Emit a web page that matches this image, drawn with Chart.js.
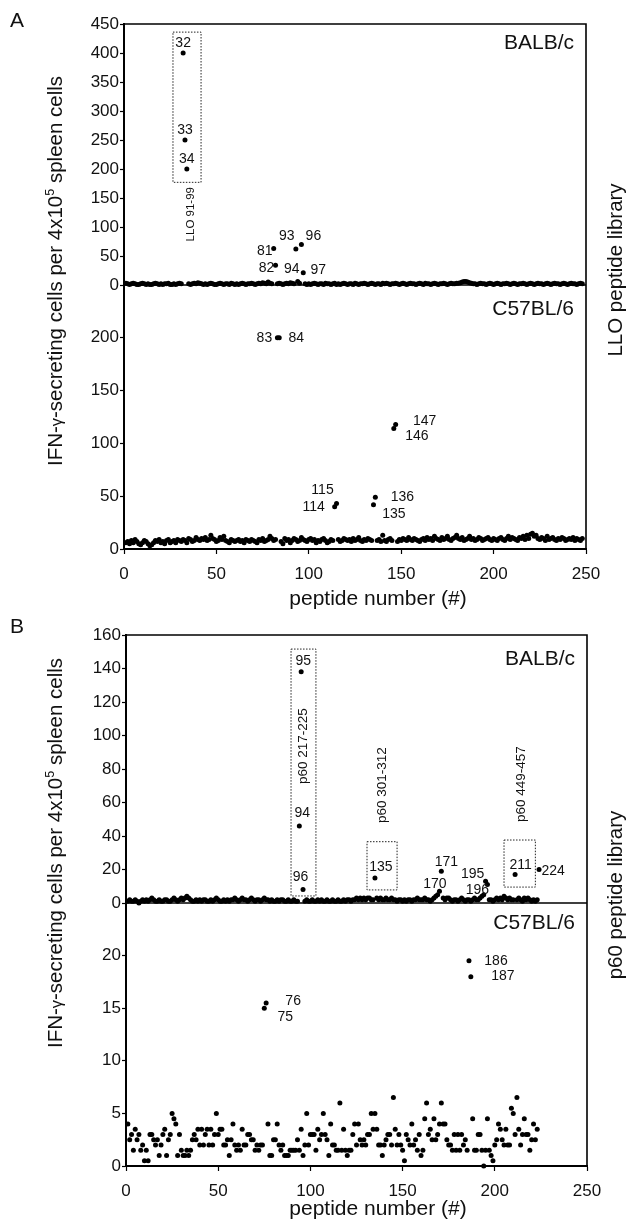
<!DOCTYPE html>
<html>
<head>
<meta charset="utf-8">
<script src="https://cdn.jsdelivr.net/npm/chart.js@4.4.1/dist/chart.umd.min.js"></script>
<style>
    body { margin: 0; background: #fff; width: 627px; height: 1227px; position: relative; overflow: hidden; }
    .panel { position: absolute; left: 0; width: 627px; }
</style>
</head>
<body>
<div class="panel" style="top:0;height:610px"><canvas id="chartA"></canvas></div>
<div class="panel" style="top:610px;height:617px"><canvas id="chartB"></canvas></div>
<script>
// ---- data, panel A: LLO peptide library (peptide 1..n) ----
const lloBalbc = [
    3,2,1,2,3,2,1,1,2,3, 2,1,2,1,1,2,3,2,1,2, 1,2,2,3,1,1,2,1,2,3,
    2,400,250,200,2,1,2,3,2,4, 3,2,1,2,1,2,3,2,1,1, 2,3,2,1,2,2,1,3,2,1,
    2,1,2,3,2,1,2,2,3,2, 1,2,3,2,4,3,2,5,3,2, 63,34,2,3,2,1,2,3,2,4,
    3,2,62,6,3,70,21,2,1,2, 1,2,3,2,1,2,2,1,3,2, 2,1,2,3,1,2,1,2,3,2,
    1,2,2,1,3,2,1,2,2,3, 2,1,2,3,2,1,2,2,1,3, 2,3,2,1,2,2,3,2,1,2,
    3,2,1,2,3,2,2,1,2,3, 2,1,3,2,2,1,2,3,2,1, 2,2,3,2,1,2,3,2,2,3,
    3,4,5,6,6,5,4,3,2,2, 1,2,3,2,2,1,2,3,2,1, 2,3,2,1,2,2,3,2,1,2,
    3,2,1,2,2,3,2,1,2,3, 2,1,2,3,2,2,1,2,3,2, 1,2,3,2,2,1,2,3,2,1,
    2,3,2,2,1,2,3,2
];
const lloC57 = [
    6,7,5,8,6,9,7,5,4,6, 8,7,5,3,4,6,8,7,9,6, 7,5,8,9,6,7,8,6,9,8,
    7,9,8,6,10,9,7,8,11,9, 8,10,9,11,8,9,13,10,9,7, 8,11,9,12,8,7,6,9,8,7,
    8,9,7,8,6,9,8,7,9,8, 7,6,9,8,10,7,8,9,12,10, 8,9,200,200,7,5,10,8,9,6,
    8,10,9,7,8,11,9,8,7,9, 10,8,9,6,8,7,9,10,8,6, 7,9,8,40,43,9,7,8,10,9,
    8,9,7,10,8,9,11,8,7,9, 8,10,9,8,42,49,8,9,7,13, 8,7,9,10,8,114,118,7,9,8,
    10,9,8,11,9,8,10,9,8,7, 9,10,8,11,9,10,8,12,10,9, 8,11,9,10,12,9,8,10,11,13,
    10,9,11,8,9,10,12,9,10,8, 9,11,10,8,9,10,11,9,8,10, 9,8,10,11,9,8,10,12,9,11,
    10,9,8,11,10,12,9,13,10,14, 15,12,13,10,9,11,10,8,12,9, 10,11,9,8,10,9,11,10,8,9,
    10,9,11,8,10,9,8,10
];

// ---- data, panel B: p60 peptide library ----
const p60Balbc = [
    1,2,1,1,2,1,0,1,2,1, 2,1,2,3,2,1,1,2,1,1, 2,2,1,1,2,3,2,1,2,3,
    2,3,4,3,2,1,1,2,1,2, 1,2,2,1,1,2,1,2,3,2, 1,1,2,1,2,1,2,2,3,2,
    1,2,3,2,2,1,2,3,2,1, 2,2,1,2,3,2,2,1,2,1, 1,2,1,2,2,1,1,2,1,1,
    2,1,1,46,138,8,1,2,1,1, 2,1,1,2,1,2,1,1,2,1, 1,2,1,1,2,1,1,2,1,2,
    2,1,2,2,3,2,3,2,3,2, 3,3,2,2,15,3,2,3,2,2, 3,2,2,3,2,2,1,2,2,1,
    2,1,2,2,1,2,2,3,2,2, 2,3,2,2,1,2,3,4,5,7, 19,3,2,3,3,2,1,2,2,1,
    2,3,2,1,2,2,1,2,3,2, 2,3,4,5,13,11,2,2,1,2, 3,2,3,2,4,3,2,3,2,2,
    17,2,3,2,1,3,2,3,2,1, 2,1,2,20
];
const p60C57 = [
    4,2.5,3,1.5,3.5,2.5,3,1.5,2,0.5, 1.5,0.5,3,3,2.5,2,2.5,1,2,3,
    3.5,1,2.5,3,5,4.5,4,1,3,1.5, 1,1,1.5,1,1.5,2.5,3,2.5,3.5,2,
    3.5,2,3,3.5,2,3.5,2,3,5,3, 3.5,3.5,2,2,2.5,1,2.5,4,2,1.5,
    2,1.5,3.5,2,2,3,3,2.5,2.5,1.5, 2,1.5,2,2,15,15.5,4,1,1,2.5,
    2.5,4,2,1.5,2,1,1,1,1.5,1.5, 1.5,1.5,2.5,1.5,3.5,1,2,5,2,3,
    3,3,1.5,3.5,2.5,3,5,3,2.5,1, 4,2,2,1.5,1.5,6,1.5,3.5,1.5,1,
    1.5,1.5,3,4,2,4,2.5,2,2.5,2, 3,3,5,3.5,5,3.5,2,2,1,2,
    2.5,3,3,2,6.5,3.5,2,3,2,1.5, 0.5,3,2.5,2,4,2,2.5,1.5,3,1,
    1.5,4.5,6,3,3.5,2.5,4.5,2.5,3,4, 6,4,4,2.5,2,2,1.5,3,1.5,3,
    1.5,3,2,2.5,1.5,19.5,18,4.5,1.5,1.5, 3,3,1.5,0,1.5,4.5,1.5,1,0.5,2,
    2.5,4,3.5,2.5,2,3.5,2,2,5.5,5, 3,6.5,3.5,2,3,4.5,3,3,1.5,2.5,
    4,2.5,3.5
];

// tick labels
const xTicks = [0, 50, 100, 150, 200, 250];
const lloBalbcTicks = [0, 50, 100, 150, 200, 250, 300, 350, 400, 450];
const lloC57Ticks = [0, 50, 100, 150, 200];
const p60BalbcTicks = [0, 20, 40, 60, 80, 100, 120, 140, 160];
const p60C57Ticks = [0, 5, 10, 15, 20];

const FONT = '"Liberation Sans", Arial, sans-serif';
const INK = '#111';

function points(values) {
    return values.map((v, i) => ({x: i + 1, y: v}));
}

function useTicks(list) {
    return scale => { scale.ticks = list.map(v => ({value: v})); };
}

function drawYTitle(ctx, cx, cy, size) {
    // rotated title with superscript 5
    const parts = [
        ['IFN-', size, 0],
        ['\u03b3', size * 0.8, 0],
        ['-secreting cells per 4x10', size, 0],
        ['5', size * 0.62, -size * 0.4],
        [' spleen cells', size, 0]
    ];
    ctx.save();
    ctx.translate(cx, cy);
    ctx.rotate(-Math.PI / 2);
    let total = 0;
    parts.forEach(p => { ctx.font = p[1] + 'px ' + FONT; total += ctx.measureText(p[0]).width; });
    let x = -total / 2;
    ctx.textAlign = 'left';
    ctx.textBaseline = 'alphabetic';
    ctx.fillStyle = INK;
    parts.forEach(p => {
        ctx.font = p[1] + 'px ' + FONT;
        ctx.fillText(p[0], x, size * 0.36 + p[2]);
        x += ctx.measureText(p[0]).width;
    });
    ctx.restore();
}

function rotatedText(ctx, text, x, y, font) {
    ctx.save();
    ctx.translate(x, y);
    ctx.rotate(-Math.PI / 2);
    ctx.font = font;
    ctx.textAlign = 'center';
    ctx.textBaseline = 'middle';
    ctx.fillStyle = INK;
    ctx.fillText(text, 0, 0);
    ctx.restore();
}

const panelDecor = {
    id: 'panelDecor',
    beforeDatasetsDraw(chart, args, o) {
        const ctx = chart.ctx, a = chart.chartArea, xs = chart.scales.x;
        ctx.save();
        ctx.strokeStyle = '#000';
        ctx.lineWidth = 1.6;
        ctx.beginPath();
        ctx.moveTo(a.left, a.top);
        ctx.lineTo(a.right, a.top);
        ctx.lineTo(a.right, a.bottom);
        const sep = chart.scales.yHigh.bottom;
        ctx.moveTo(a.left, sep);
        ctx.lineTo(a.right, sep);
        ctx.stroke();

        // dotted boxes round the epitopes
        ctx.setLineDash([1.5, 1.5]);
        ctx.lineWidth = 1;
        ctx.strokeStyle = '#222';
        o.boxes.forEach(b => {
            const ys = chart.scales[b.axis];
            const x0 = xs.getPixelForValue(b.x0), x1 = xs.getPixelForValue(b.x1);
            const y0 = ys.getPixelForValue(b.y0), y1 = ys.getPixelForValue(b.y1);
            ctx.strokeRect(x0, y1, x1 - x0, y0 - y1);
        });
        ctx.restore();
    },
    afterDraw(chart, args, o) {
        const ctx = chart.ctx, a = chart.chartArea, xs = chart.scales.x;
        ctx.save();
        ctx.fillStyle = INK;

        // panel letter
        ctx.font = '21px ' + FONT;
        ctx.textAlign = 'left';
        ctx.textBaseline = 'middle';
        ctx.fillText(o.letter, 10, o.letterY);

        // strain names
        ctx.textAlign = 'right';
        o.strains.forEach(s => {
            ctx.fillText(s.text, a.right - 12, chart.scales[s.axis].top + s.dy);
        });

        // x title
        ctx.textAlign = 'center';
        ctx.fillText('peptide number (#)', 378, o.xTitleY);

        drawYTitle(ctx, 55, o.yTitleY, 20.5);
        rotatedText(ctx, o.library, 616, o.libraryY, '20.5px ' + FONT);

        // epitope names
        o.tags.forEach(t => {
            const ys = chart.scales[t.axis];
            rotatedText(ctx, t.text, xs.getPixelForValue(t.x), ys.getPixelForValue(t.y), t.size + 'px ' + FONT);
        });

        // peptide numbers next to points
        ctx.font = '14px ' + FONT;
        ctx.textAlign = 'center';
        ctx.textBaseline = 'middle';
        o.numbers.forEach(n => {
            const ds = chart.data.datasets[n.ds];
            const v = ds.data[n.p - 1].y;
            const ys = chart.scales[ds.yAxisID];
            ctx.fillText(String(n.p), xs.getPixelForValue(n.p) + n.dx, ys.getPixelForValue(v) + n.dy);
        });
        ctx.restore();
    }
};

function dotSet(values, axis) {
    return {
        data: points(values),
        yAxisID: axis,
        backgroundColor: '#000',
        borderColor: '#000',
        pointRadius: 2.5,
        pointBorderWidth: 0,
        pointHoverRadius: 2.5,
        showLine: false,
        clip: false
    };
}

function yAxis(ticks, max, weight, axisWidth) {
    return {
        type: 'linear',
        position: 'left',
        stack: 'panel',
        stackWeight: weight,
        min: 0,
        max: max,
        afterBuildTicks: useTicks(ticks),
        afterFit: s => { s.width = axisWidth; },
        grid: {drawOnChartArea: false, color: '#000', tickLength: 4, tickWidth: 1.2},
        border: {color: '#000', width: 2},
        ticks: {color: INK, font: {family: FONT, size: 17}, padding: 1, autoSkip: false}
    };
}

function buildChart(id, cfg) {
    const ctx = document.getElementById(id).getContext('2d');
    return new Chart(ctx, {
        type: 'scatter',
        data: {datasets: [dotSet(cfg.high, 'yHigh'), dotSet(cfg.low, 'yLow')]},
        options: {
            responsive: true,
            maintainAspectRatio: false,
            devicePixelRatio: 1,
            animation: false,
            events: [],
            layout: {padding: {top: cfg.top, right: 627 - cfg.right, left: 0, bottom: 0}},
            plugins: {
                legend: {display: false},
                tooltip: {enabled: false},
                panelDecor: cfg.decor
            },
            scales: {
                x: {
                    type: 'linear',
                    min: 0,
                    max: 250,
                    afterBuildTicks: useTicks(xTicks),
                    afterFit: s => { s.height = cfg.xHeight; },
                    grid: {drawOnChartArea: false, color: '#000', tickLength: 5, tickWidth: 1.2},
                    border: {color: '#000', width: 2},
                    ticks: {color: INK, font: {family: FONT, size: 17}, padding: 10, maxRotation: 0, autoSkip: false}
                },
                // bottom strain first: stacked axes are placed from the last one down
                yLow: yAxis(cfg.lowTicks, cfg.lowMax, cfg.lowWeight, cfg.left),
                yHigh: yAxis(cfg.highTicks, cfg.highMax, cfg.highWeight, cfg.left)
            }
        },
        plugins: [panelDecor]
    });
}

buildChart('chartA', {
    high: lloBalbc, low: lloC57,
    highTicks: lloBalbcTicks, lowTicks: lloC57Ticks,
    highMax: 450, lowMax: 250, highWeight: 261, lowWeight: 264,
    top: 24, right: 586, left: 124, xHeight: 61,
    decor: {
        letter: 'A', letterY: 21, xTitleY: 599, yTitleY: 271,
        library: 'LLO peptide library', libraryY: 270,
        strains: [{text: 'BALB/c', axis: 'yHigh', dy: 19}, {text: 'C57BL/6', axis: 'yLow', dy: 24}],
        boxes: [{axis: 'yHigh', x0: 26.5, x1: 41.7, y0: 177, y1: 436}],
        tags: [{axis: 'yHigh', text: 'LLO 91-99', x: 36.3, y: 122, size: 11.5}],
        numbers: [
            {ds: 0, p: 32, dx: 0, dy: -10}, {ds: 0, p: 33, dx: 0, dy: -10}, {ds: 0, p: 34, dx: 0, dy: -10},
            {ds: 0, p: 81, dx: -9, dy: 3}, {ds: 0, p: 82, dx: -9, dy: 3}, {ds: 0, p: 93, dx: -9, dy: -13},
            {ds: 0, p: 94, dx: -6, dy: -12}, {ds: 0, p: 96, dx: 12, dy: -8}, {ds: 0, p: 97, dx: 15, dy: -3},
            {ds: 1, p: 83, dx: -13, dy: 0}, {ds: 1, p: 84, dx: 17, dy: 0},
            {ds: 1, p: 114, dx: -21, dy: 0}, {ds: 1, p: 115, dx: -14, dy: -13},
            {ds: 1, p: 135, dx: 20.5, dy: 9}, {ds: 1, p: 136, dx: 27, dy: 0},
            {ds: 1, p: 146, dx: 23, dy: 8}, {ds: 1, p: 147, dx: 29, dy: -3}
        ]
    }
});

buildChart('chartB', {
    high: p60Balbc, low: p60C57,
    highTicks: p60BalbcTicks, lowTicks: p60C57Ticks,
    highMax: 160, lowMax: 25, highWeight: 268, lowWeight: 263,
    top: 25, right: 587, left: 126, xHeight: 61,
    decor: {
        letter: 'B', letterY: 17, xTitleY: 599, yTitleY: 243,
        library: 'p60 peptide library', libraryY: 285,
        strains: [{text: 'BALB/c', axis: 'yHigh', dy: 24}, {text: 'C57BL/6', axis: 'yLow', dy: 20}],
        boxes: [
            {axis: 'yHigh', x0: 89.5, x1: 103, y0: 4.2, y1: 151.6},
            {axis: 'yHigh', x0: 130.7, x1: 147, y0: 7.8, y1: 36.6},
            {axis: 'yHigh', x0: 205, x1: 222, y0: 9.5, y1: 37.6}
        ],
        tags: [
            {axis: 'yHigh', text: 'p60 217-225', x: 96, y: 93.7, size: 13.5},
            {axis: 'yHigh', text: 'p60 301-312', x: 138.8, y: 70.4, size: 13.5},
            {axis: 'yHigh', text: 'p60 449-457', x: 214.2, y: 71, size: 13.5}
        ],
        numbers: [
            {ds: 0, p: 95, dx: 2, dy: -11}, {ds: 0, p: 94, dx: 3, dy: -13}, {ds: 0, p: 96, dx: -2.5, dy: -12.5},
            {ds: 0, p: 135, dx: 6, dy: -11}, {ds: 0, p: 171, dx: 5, dy: -9}, {ds: 0, p: 170, dx: -4.5, dy: -7},
            {ds: 0, p: 195, dx: -13, dy: -7}, {ds: 0, p: 196, dx: -10, dy: 6},
            {ds: 0, p: 211, dx: 5.5, dy: -9.5}, {ds: 0, p: 224, dx: 14, dy: 1.5},
            {ds: 1, p: 75, dx: 21, dy: 9}, {ds: 1, p: 76, dx: 27, dy: -2},
            {ds: 1, p: 186, dx: 27, dy: 0}, {ds: 1, p: 187, dx: 32, dy: 0}
        ]
    }
});
</script>
</body>
</html>
